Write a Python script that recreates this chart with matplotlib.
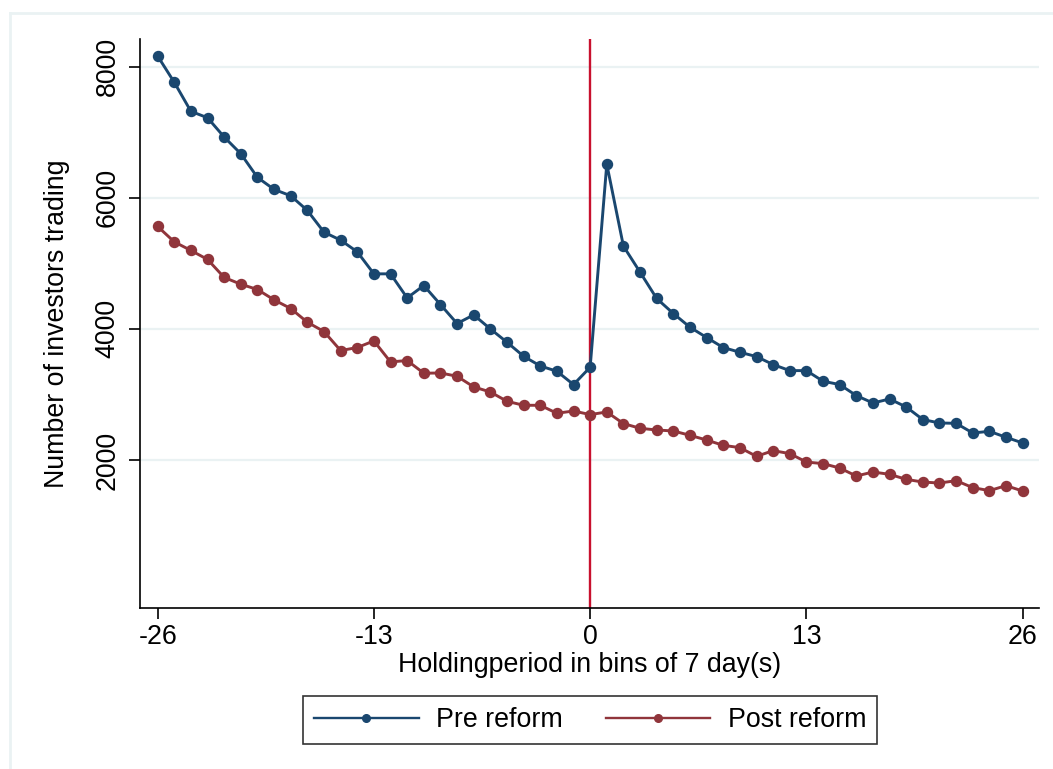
import matplotlib
matplotlib.use("Agg")
import matplotlib.pyplot as plt
from matplotlib.lines import Line2D

plt.rcParams['font.family'] = ['Liberation Sans', 'DejaVu Sans']

bins = list(range(-26, 27))
pre_reform = [8163, 7762, 7319, 7221, 6927, 6672, 6311, 6128, 6031, 5807,
              5476, 5354, 5176, 4840, 4840, 4473, 4662, 4372, 4082, 4214,
              4000, 3797, 3583, 3435, 3354, 3151, 3415, 6514, 5263, 4866,
              4464, 4235, 4026, 3869, 3716, 3644, 3578, 3456, 3364, 3364,
              3202, 3151, 2983, 2870, 2931, 2809, 2617, 2565, 2560, 2412,
              2438, 2347, 2260]
post_reform = [5563, 5328, 5197, 5060, 4785, 4682, 4601, 4443, 4311, 4102,
               3960, 3670, 3716, 3817, 3496, 3518, 3324, 3328, 3278, 3115,
               3038, 2896, 2835, 2835, 2713, 2748, 2693, 2733, 2556, 2484,
               2458, 2443, 2377, 2305, 2224, 2189, 2056, 2143, 2098, 1969,
               1945, 1878, 1756, 1817, 1782, 1705, 1664, 1649, 1685, 1579,
               1533, 1609, 1527]
series_labels = ["Pre reform", "Post reform"]
xticks = [-26, -13, 0, 13, 26]
yticks = [2000, 4000, 6000, 8000]

navy = "#1a476f"
maroon = "#90353b"
grid_c = "#eaf2f3"

fig = plt.figure(figsize=(10.53, 7.69), dpi=100)
fig.patch.set_facecolor("white")

# outer frame (Stata-style light border)
fig.add_artist(Line2D([10/1053, 10/1053], [0, 1 - 13/769], color=grid_c, lw=2.0,
                      transform=fig.transFigure))
fig.add_artist(Line2D([10/1053, 1], [1 - 13/769, 1 - 13/769], color=grid_c, lw=2.0,
                      transform=fig.transFigure))

ax = fig.add_axes([140/1053, 1 - 608.3/769, 899.3/1053, 569/769])

for y in yticks:
    ax.axhline(y, color=grid_c, lw=1.6, zorder=0)

ax.axvline(0, color="#c8102e", lw=1.7, zorder=1)

ax.plot(bins, pre_reform, color=navy, lw=2.1, marker="o", ms=7.2,
        label=series_labels[0], zorder=3)
ax.plot(bins, post_reform, color=maroon, lw=2.1, marker="o", ms=7.2,
        label=series_labels[1], zorder=3)

ax.set_xlim(-27.06, 27.0)
ax.set_ylim(-262, 8418)
ax.set_xticks(xticks)
ax.set_xticklabels([str(t) for t in xticks])
ax.set_yticks(yticks)
ax.set_yticklabels([str(t) for t in yticks], rotation=90, va="center")

for s in ["top", "right"]:
    ax.spines[s].set_visible(False)
for s in ["left", "bottom"]:
    ax.spines[s].set_linewidth(1.2)
    ax.spines[s].set_color("black")

ax.tick_params(axis="both", direction="out", length=8, width=1.2, labelsize=19.3,
               colors="black")
ax.tick_params(axis="y", pad=6)
ax.tick_params(axis="x", pad=3)

ax.set_xlabel("Holdingperiod in bins of 7 day(s)", fontsize=19.3, labelpad=2)
ax.set_ylabel("Number of investors trading", fontsize=19.3, labelpad=18)

h1 = Line2D([], [], color=navy, lw=1.7, marker="o", ms=5.5)
h2 = Line2D([], [], color=maroon, lw=1.7, marker="o", ms=5.5)
leg = fig.legend([h1, h2], series_labels, loc="center",
                 bbox_to_anchor=(590/1053, 1 - 720/769), ncol=2, fontsize=19.3,
                 frameon=True, fancybox=False, edgecolor="black",
                 handlelength=3.9, handletextpad=0.65, columnspacing=1.6,
                 borderpad=0.4)
leg.get_frame().set_linewidth(1.2)

fig.savefig("out.png", dpi=100, facecolor="white")
